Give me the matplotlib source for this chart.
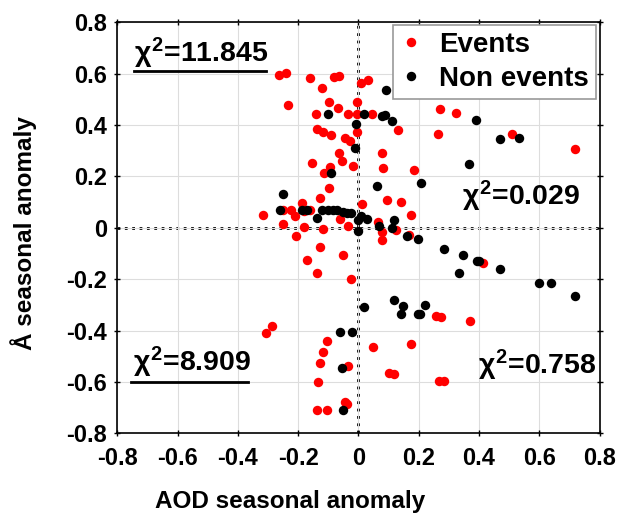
import matplotlib
matplotlib.use("Agg")
import matplotlib.pyplot as plt

plt.rcParams['font.family'] = ['Liberation Sans', 'DejaVu Sans']
plt.rcParams['font.weight'] = 'bold'
plt.rcParams['mathtext.fontset'] = 'custom'
plt.rcParams['mathtext.rm'] = 'Liberation Sans:bold'
plt.rcParams['mathtext.it'] = 'Liberation Sans'
plt.rcParams['mathtext.bf'] = 'Liberation Sans:bold'

# events (red)
ev_x = [-0.263, -0.240, -0.234, -0.160, -0.120, -0.080, -0.066, -0.098, -0.068, -0.141,
        -0.034, -0.005, -0.005, 0.009, 0.033, 0.044, -0.137, -0.116, -0.091, -0.046,
        -0.028, -0.005, -0.066, -0.055, -0.153, -0.094, -0.017, -0.114, -0.098, -0.127,
        -0.188, -0.317, -0.250, -0.225, -0.210, -0.182, -0.160, -0.249, -0.179, -0.118,
        -0.061, -0.036, -0.208, -0.128, -0.050, -0.170, -0.136, -0.025, -0.307, -0.287,
        -0.103, -0.118, -0.126, -0.035, -0.133, -0.044, -0.038, -0.138, -0.103,
        0.133, 0.078, 0.081, 0.185, 0.270, 0.324, 0.263, 0.511, 0.720, 0.094, 0.143,
        0.013, 0.173, 0.066, 0.078, 0.078, 0.125, 0.168, 0.415, 0.257, 0.274, 0.370,
        0.048, 0.174, 0.100, 0.119, 0.268, 0.285]
ev_y = [0.595, 0.604, 0.480, 0.584, 0.545, 0.588, 0.591, 0.488, 0.467, 0.444,
        0.445, 0.445, 0.488, 0.563, 0.574, 0.442, 0.386, 0.374, 0.362, 0.349,
        0.339, 0.375, 0.293, 0.261, 0.254, 0.235, 0.241, 0.215, 0.157, 0.118,
        0.096, 0.049, 0.069, 0.069, 0.047, 0.066, 0.069, 0.014, 0.004, -0.003,
        0.036, 0.008, -0.031, -0.073, -0.104, -0.126, -0.176, -0.198, -0.410, -0.381,
        -0.440, -0.485, -0.528, -0.537, -0.599, -0.678, -0.684, -0.711, -0.711,
        0.380, 0.293, 0.232, 0.225, 0.462, 0.449, 0.364, 0.367, 0.306, 0.110, 0.100,
        0.092, 0.051, 0.024, -0.018, -0.048, -0.009, -0.026, -0.137, -0.342, -0.346, -0.364,
        -0.462, -0.453, -0.567, -0.569, -0.595, -0.598]

# non events (black)
ne_x = [-0.101, -0.008, -0.012, -0.090, -0.250, -0.260, -0.188, -0.171, -0.121, -0.100,
        -0.083, -0.070, -0.052, -0.038, -0.025, -0.138, 0.000, 0.010, 0.028, -0.002,
        -0.061, -0.022, -0.055, -0.050,
        0.020, 0.090, 0.079, 0.088, 0.112, 0.390, 0.470, 0.533, 0.367, 0.209,
        0.063, 0.070, 0.111, 0.119, 0.160, 0.197, 0.285, 0.348, 0.393, 0.401,
        0.335, 0.471, 0.599, 0.639, 0.719, 0.020, 0.118, 0.149, 0.141, 0.199,
        0.205, 0.221]
ne_y = [0.443, 0.403, 0.311, 0.213, 0.131, 0.070, 0.070, 0.070, 0.070, 0.070,
        0.070, 0.070, 0.062, 0.057, 0.056, 0.038, 0.032, 0.047, 0.036, -0.014,
        -0.407, -0.405, -0.546, -0.711,
        0.443, 0.537, 0.435, 0.440, 0.414, 0.420, 0.344, 0.351, 0.249, 0.173,
        0.162, 0.008, -0.001, 0.031, -0.031, -0.042, -0.083, -0.106, -0.128, -0.131,
        -0.176, -0.161, -0.213, -0.213, -0.267, -0.310, -0.280, -0.305, -0.336, -0.336,
        -0.336, -0.300]

ticks = [-0.8, -0.6, -0.4, -0.2, 0, 0.2, 0.4, 0.6, 0.8]
tick_labels = ['-0.8', '-0.6', '-0.4', '-0.2', '0', '0.2', '0.4', '0.6', '0.8']

chi_labels = ['11.845', '0.029', '8.909', '0.758']
chi_pos = [(-0.746, 0.643), (0.343, 0.089), (-0.749, -0.559), (0.396, -0.569)]
underlines = [((-0.746, -0.307), 0.611), ((-0.755, -0.365), -0.599)]

fig = plt.figure(figsize=(6.19, 5.15), dpi=100)
ax = fig.add_axes([0.1895, 0.1586, 0.779, 0.798])

ax.grid(True, color='#dddddd', lw=0.8, zorder=0)
ax.axhline(0, color='k', ls=':', lw=2, zorder=1)
ax.axvline(0, color='k', ls=':', lw=2, zorder=1)

ax.plot(ev_x, ev_y, 'o', color='#ff0000', ms=6.8, mec='none', label='Events', zorder=3)
ax.plot(ne_x, ne_y, 'o', color='k', ms=6.8, mec='none', label='Non events', zorder=4)

for lab, (tx, ty) in zip(chi_labels, chi_pos):
    ax.text(tx, ty, r'$\chi^{\mathbf{2}}$=' + lab, fontsize=20.5, fontweight='bold',
            va='baseline', ha='left', zorder=5)
for (x0, x1), yy in underlines:
    ax.plot([x0, x1], [yy, yy], color='k', lw=2, zorder=5)

ax.set_xlim(-0.8, 0.8)
ax.set_ylim(-0.8, 0.8)
ax.set_xticks(ticks)
ax.set_xticklabels(tick_labels)
ax.set_yticks(ticks)
ax.set_yticklabels(tick_labels)
ax.tick_params(direction='inout', length=5, width=1, top=True, right=True,
               labelsize=17)
ax.tick_params(axis='x', pad=7)
ax.tick_params(axis='y', pad=5)
for s in ax.spines.values():
    s.set_linewidth(1.2)

ax.set_xlabel('AOD seasonal anomaly', fontsize=17.5, fontweight='bold')
ax.xaxis.set_label_coords(0.358, -0.138)
ax.set_ylabel('Å seasonal anomaly', fontsize=17.5, fontweight='bold')
ax.yaxis.set_label_coords(-0.166, 0.487)

leg = ax.legend(loc='upper right', bbox_to_anchor=(0.992, 0.994), borderaxespad=0,
                fancybox=False, edgecolor='#999999', framealpha=1, fontsize=20,
                handlelength=0.8, handletextpad=0.6, labelspacing=0.3, borderpad=0.25)
leg.get_frame().set_linewidth(1.2)

fig.savefig('out.png', dpi=100)
